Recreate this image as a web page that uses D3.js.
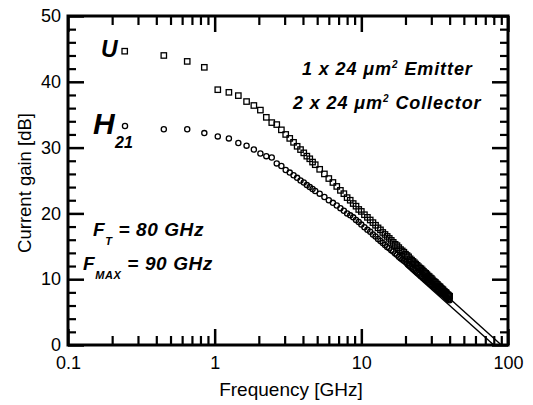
<!DOCTYPE html>
<html>
<head>
<meta charset="utf-8">
<script src="https://cdn.jsdelivr.net/npm/d3@7"></script>
<style>
  body { margin: 0; background: #fff; }
  svg { display: block; }
</style>
</head>
<body>
<div id="chart"></div>
<script>
// -----------------------------
// DATA
// -----------------------------
const FREQ_GHZ = [
  0.45, 0.65, 0.85, 1.05, 1.25, 1.45, 1.65, 1.85, 2.05, 2.25, 2.45, 2.65,
  2.85, 3.05, 3.25, 3.45, 3.65, 3.85, 4.05, 4.25, 4.45, 4.65, 4.85,
  5.2, 5.6, 6.0, 6.4, 6.8, 7.2, 7.6, 8.0, 8.4, 8.8, 9.2, 9.6, 10.0,
  10.5, 11, 11.5, 12, 12.5, 13, 13.5, 14, 14.5, 15, 15.5, 16, 16.5, 17, 17.5,
  18, 18.5, 19, 19.5, 20, 20.5, 21, 21.5, 22, 22.5, 23, 23.5, 24, 24.5, 25,
  25.5, 26, 26.5, 27, 27.5, 28, 28.5, 29, 29.5, 30, 30.5, 31, 31.5, 32, 32.5,
  33, 33.5, 34, 34.5, 35, 35.5, 36, 36.5, 37, 37.5, 38, 38.5, 39, 39.5, 40
];

// Mason's unilateral gain U (squares)
const U_DB = [
  44.0, 43.1, 42.2, 38.8, 38.4, 37.9, 37.0, 36.4, 35.7, 34.6, 33.8, 33.5,
  32.7, 32.0, 31.4, 30.8, 30.2, 29.7, 29.2, 28.7, 28.3, 27.8, 27.4,
  26.7, 26.0, 25.3, 24.7, 24.1, 23.5, 23.0, 22.4, 22.0, 21.5, 21.1, 20.6, 20.3,
  19.8, 19.4, 19.0, 18.6, 18.2, 17.8, 17.5, 17.1, 16.8, 16.5, 16.2, 15.9, 15.6, 15.3, 15.1,
  14.8, 14.5, 14.3, 14.1, 13.8, 13.6, 13.4, 13.1, 12.9, 12.7, 12.5, 12.3, 12.1, 11.9, 11.7,
  11.6, 11.4, 11.2, 11.0, 10.9, 10.7, 10.5, 10.4, 10.2, 10.1, 9.9, 9.7, 9.6, 9.5, 9.3,
  9.2, 9.0, 8.9, 8.8, 8.6, 8.5, 8.4, 8.2, 8.1, 8.0, 7.9, 7.7, 7.6, 7.5, 7.4
];

// Current gain H21 (circles)
const H21_DB = [
  32.8, 32.8, 32.2, 31.7, 31.4, 30.7, 30.3, 29.7, 29.1, 28.7, 28.5, 27.6,
  27.2, 26.6, 26.2, 25.8, 25.4, 25.0, 24.7, 24.3, 24.0, 23.7, 23.4,
  23.0, 22.5, 22.0, 21.6, 21.2, 20.8, 20.4, 20.0, 19.7, 19.4, 19.0, 18.7, 18.3,
  17.9, 17.5, 17.2, 16.8, 16.5, 16.1, 15.8, 15.5, 15.2, 14.9, 14.7, 14.4, 14.2, 13.9, 13.7,
  13.4, 13.2, 13.0, 12.8, 12.6, 12.4, 12.2, 12.0, 11.8, 11.6, 11.4, 11.2, 11.0, 10.9, 10.7,
  10.5, 10.4, 10.2, 10.1, 9.9, 9.8, 9.6, 9.5, 9.3, 9.2, 9.1, 8.9, 8.8, 8.7, 8.5,
  8.4, 8.3, 8.2, 8.0, 7.9, 7.8, 7.7, 7.6, 7.5, 7.3, 7.2, 7.1, 7.0, 6.9, 6.8
];

// -20 dB/dec extrapolations down to 0 dB
const FT_LINE_F = [20, 80];
const FT_LINE_DB = [12.0, 0];
const FMAX_LINE_F = [20, 90];
const FMAX_LINE_DB = [13.1, 0];

const X_MAJOR = [0.1, 1, 10, 100];
const X_LABELS = ["0.1", "1", "10", "100"];
const Y_MAJOR = [0, 10, 20, 30, 40, 50];
const Y_MINOR = [2, 4, 6, 8, 12, 14, 16, 18, 22, 24, 26, 28, 32, 34, 36, 38, 42, 44, 46, 48];

// -----------------------------
// LAYOUT
// -----------------------------
const W = 533, H = 405;
const margin = { top: 16, right: 25, bottom: 60, left: 68 };
const innerW = W - margin.left - margin.right;
const innerH = H - margin.top - margin.bottom;
const FONT = "'Liberation Sans', Arial, Helvetica, sans-serif";

const svg = d3.select("#chart").append("svg")
  .attr("width", W)
  .attr("height", H)
  .style("font-family", FONT);

const g = svg.append("g")
  .attr("transform", `translate(${margin.left},${margin.top})`);

const x = d3.scaleLog().domain([0.1, 100]).range([0, innerW]);
const y = d3.scaleLinear().domain([0, 50]).range([innerH, 0]);

const xMinor = x.ticks().filter(t => !X_MAJOR.some(m => Math.abs(m - t) < 1e-9));

// -----------------------------
// AXES (ticks point inward)
// -----------------------------
function styleAxis(sel, w) {
  sel.select(".domain").remove();
  sel.selectAll("line").attr("stroke", "#000").attr("stroke-width", w);
  sel.selectAll("text").attr("font-size", 18).attr("fill", "#000").attr("font-family", FONT);
}

g.append("g").attr("transform", `translate(0,${innerH})`)
  .call(d3.axisBottom(x).tickValues(X_MAJOR).tickSize(-16).tickPadding(11)
    .tickFormat((d, i) => X_LABELS[i]))
  .call(s => styleAxis(s, 2.5));
g.append("g").attr("transform", `translate(0,${innerH})`)
  .call(d3.axisBottom(x).tickValues(xMinor).tickSize(-9).tickFormat(""))
  .call(s => styleAxis(s, 2.2));
g.append("g")
  .call(d3.axisTop(x).tickValues(X_MAJOR).tickSize(-16).tickFormat(""))
  .call(s => styleAxis(s, 2.5));
g.append("g")
  .call(d3.axisTop(x).tickValues(xMinor).tickSize(-9).tickFormat(""))
  .call(s => styleAxis(s, 2.2));

g.append("g")
  .call(d3.axisLeft(y).tickValues(Y_MAJOR).tickSize(-16).tickPadding(7))
  .call(s => styleAxis(s, 2.5));
g.append("g")
  .call(d3.axisLeft(y).tickValues(Y_MINOR).tickSize(-8).tickFormat(""))
  .call(s => styleAxis(s, 2.2));
g.append("g").attr("transform", `translate(${innerW},0)`)
  .call(d3.axisRight(y).tickValues(Y_MAJOR).tickSize(-16).tickFormat(""))
  .call(s => styleAxis(s, 2.5));
g.append("g").attr("transform", `translate(${innerW},0)`)
  .call(d3.axisRight(y).tickValues(Y_MINOR).tickSize(-8).tickFormat(""))
  .call(s => styleAxis(s, 2.2));

// frame
g.append("rect")
  .attr("width", innerW).attr("height", innerH)
  .attr("fill", "none").attr("stroke", "#000").attr("stroke-width", 3);

// axis titles
svg.append("text")
  .attr("x", margin.left + innerW / 2 + 3)
  .attr("y", 396)
  .attr("text-anchor", "middle")
  .attr("font-size", 19)
  .text("Frequency [GHz]");

svg.append("text")
  .attr("transform", "rotate(-90)")
  .attr("x", -183)
  .attr("y", 31)
  .attr("text-anchor", "middle")
  .attr("font-size", 18.5)
  .text("Current gain [dB]");

// -----------------------------
// EXTRAPOLATION LINES
// -----------------------------
const lineGen = d3.line().x(d => x(d[0])).y(d => y(d[1]));
[[FT_LINE_F, FT_LINE_DB], [FMAX_LINE_F, FMAX_LINE_DB]].forEach(([fs, vs]) => {
  g.append("path")
    .datum(fs.map((f, i) => [f, vs[i]]))
    .attr("fill", "none")
    .attr("stroke", "#000")
    .attr("stroke-width", 1.4)
    .attr("d", lineGen);
});

// -----------------------------
// MARKERS
// -----------------------------
const pts = FREQ_GHZ.map((f, i) => ({ f, u: U_DB[i], h: H21_DB[i] }));

g.append("g").selectAll("rect")
  .data(pts)
  .join("rect")
  .attr("x", d => x(d.f) - 2.7)
  .attr("y", d => y(d.u) - 2.7)
  .attr("width", 5.4).attr("height", 5.4)
  .attr("fill", "none").attr("stroke", "#000").attr("stroke-width", 1.3);

g.append("g").selectAll("circle")
  .data(pts)
  .join("circle")
  .attr("cx", d => x(d.f))
  .attr("cy", d => y(d.h))
  .attr("r", 2.6)
  .attr("fill", "none").attr("stroke", "#000").attr("stroke-width", 1.3);

// -----------------------------
// ANNOTATIONS
// -----------------------------
const ann = svg.append("g")
  .attr("font-weight", "bold")
  .attr("font-style", "italic")
  .attr("fill", "#000");

// legend: U
ann.append("text").attr("x", 101).attr("y", 57).attr("font-size", 23).text("U");
svg.append("rect").attr("x", 122).attr("y", 48.5).attr("width", 5.4).attr("height", 5.4)
  .attr("fill", "none").attr("stroke", "#000").attr("stroke-width", 1.3);

// legend: H21
ann.append("text").attr("x", 93).attr("y", 134).attr("font-size", 30).text("H");
ann.append("text").attr("x", 115).attr("y", 148).attr("font-size", 16).text("21");
svg.append("circle").attr("cx", 125).attr("cy", 126).attr("r", 2.6)
  .attr("fill", "none").attr("stroke", "#000").attr("stroke-width", 1.3);

// device geometry
const t1 = ann.append("text").attr("x", 302).attr("y", 75)
  .attr("font-size", 18).attr("letter-spacing", 0.9);
t1.append("tspan").text("1 x 24 \u03bcm");
t1.append("tspan").attr("dy", -7).attr("font-size", 10).text("2");
t1.append("tspan").attr("dy", 7).text(" Emitter");

const t2 = ann.append("text").attr("x", 293).attr("y", 109)
  .attr("font-size", 18).attr("letter-spacing", 0.9);
t2.append("tspan").text("2 x 24 \u03bcm");
t2.append("tspan").attr("dy", -7).attr("font-size", 10).text("2");
t2.append("tspan").attr("dy", 7).text(" Collector");

// FT / FMAX
const ft = ann.append("text").attr("x", 93).attr("y", 236)
  .attr("font-size", 19).attr("letter-spacing", 0.6);
ft.append("tspan").text("F");
ft.append("tspan").attr("dy", 9).attr("font-size", 11).text("T");
ft.append("tspan").attr("dy", -9).text(" = 80 GHz");

const fm = ann.append("text").attr("x", 83).attr("y", 270)
  .attr("font-size", 19).attr("letter-spacing", 0.6);
fm.append("tspan").text("F");
fm.append("tspan").attr("dy", 9).attr("font-size", 11).text("MAX");
fm.append("tspan").attr("dy", -9).text(" = 90 GHz");
</script>
</body>
</html>
